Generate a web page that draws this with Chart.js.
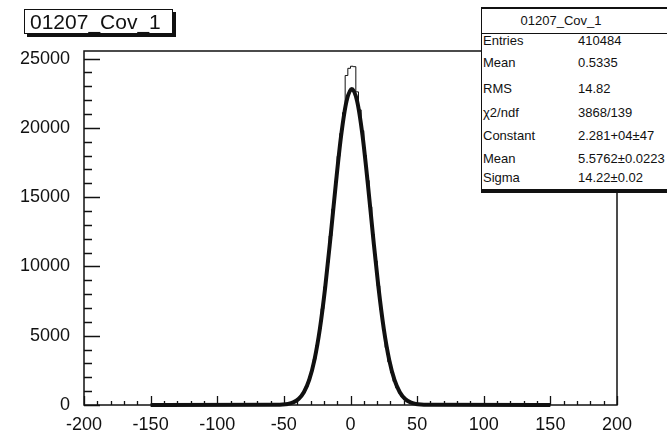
<!DOCTYPE html>
<html>
<head>
<meta charset="utf-8">
<script src="https://cdn.jsdelivr.net/npm/chart.js@4/dist/chart.umd.min.js"></script>
<style>
  html, body { margin: 0; padding: 0; background: #fff; }
  body { width: 667px; height: 441px; overflow: hidden; position: relative; font-family: "Liberation Sans", Arial, sans-serif; color: #111; }
  #c { position: absolute; left: 0; top: 0; }
  #title { position: absolute; left: 24px; top: 9px; border: 1px solid #111; background: #fff;
           box-shadow: 3px 3px 0 #111; font-size: 21px; line-height: 23px; padding-left: 5px; box-sizing: border-box; width: 149px; height: 25px; white-space: nowrap; }
  #stats { position: absolute; left: 481px; top: 7px; width: 200px; height: 186px; background: #fff;
           border-top: 2px solid #111; border-left: 1px solid #111; border-bottom: 4px solid #111; box-sizing: border-box; font-size: 13px; line-height: 15px; }
  #stats .hd { position: absolute; left: 0; width: 158px; top: 4px; text-align: center; }
  #stats .sep { position: absolute; left: 0; right: 0; top: 24px; border-top: 1px solid #111; }
  #stats .k { position: absolute; left: 1px; }
  #stats .v { position: absolute; left: 96px; }
</style>
</head>
<body>
<canvas id="c" width="667" height="441"></canvas>
<div id="title">01207_Cov_1</div>
<div id="stats"></div>
<script>
// ---- data ----
const histTitle = "01207_Cov_1";
const statLabels = ["Entries", "Mean", "RMS", "\u03c72/ndf", "Constant", "Mean", "Sigma"];
const statValues = ["410484", "0.5335", "14.82", "3868/139", "2.281+04\u00b147", "5.5762\u00b10.0223", "14.22\u00b10.02"];

// histogram: bin low edges (width 2) and counts
const binLowEdges = [-60,-58,-56,-54,-52,-50,-48,-46,-44,-42,-40,-38,-36,-34,-32,-30,-28,-26,-24,-22,
  -20,-18,-16,-14,-12,-10,-8,-6,-4,-2,0,2,4,6,8,10,12,14,16,18,
  20,22,24,26,28,30,32,34,36,38,40,42,44,46,48,50,52,54,56,58];
const binCounts = [4,8,12,20,31,50,80,125,195,300,445,650,940,1320,1830,2490,3300,4310,5520,6950,
  8530,10300,12200,14150,16100,17950,19600,21100,23780,24300,24450,24420,22600,21300,19800,18000,16200,14300,12300,10400,
  8600,6900,5400,4150,3120,2330,1700,1230,870,600,410,275,180,115,72,44,26,15,8,4];
const histRange = [-150, 150];

// Gaussian fit curve
const fitX = [-150,-55,-51,-47,-43,-39,-35,-31,-27,-23,-19,-15,-11,-7,-3,1,5,9,13,17,21,25,29,33,37,41,45,49,53,57,150];
const fitY = [0,10,28,77,190,436,925,1812,3281,5486,8480,12107,15969,19462,21915,22800,21915,19462,15969,12107,8480,5486,3281,1812,925,436,190,77,28,10,0];

// axes
const xTicksMajor = [-200,-150,-100,-50,0,50,100,150,200];
const yTicksMajor = [0,5000,10000,15000,20000,25000];

// ---- stats box ----
const rowTops = [24, 46, 72, 96, 119, 142, 161];
const st = document.getElementById('stats');
let html = '<div class="hd">' + histTitle + '</div><div class="sep"></div>';
statLabels.forEach((k, i) => {
  html += '<div class="k" style="top:' + rowTops[i] + 'px">' + k + '</div>';
  html += '<div class="v" style="top:' + rowTops[i] + 'px">' + statValues[i] + '</div>';
});
st.innerHTML = html;

// ---- chart ----
const histData = [{x: histRange[0], y: 0}];
binLowEdges.forEach((e, i) => histData.push({x: e, y: binCounts[i]}));
histData.push({x: binLowEdges[binLowEdges.length - 1] + 2, y: 0});
histData.push({x: histRange[1], y: 0});
const fitData = fitX.map((x, i) => ({x, y: fitY[i]}));

const framePlugin = {
  id: 'frame',
  afterDatasetsDraw(chart) {
    const {ctx, chartArea: a, scales: {x, y}} = chart;
    ctx.save();
    ctx.strokeStyle = '#111';
    ctx.lineWidth = 1.5;
    ctx.strokeRect(a.left, a.top, a.right - a.left, a.bottom - a.top);
    ctx.lineWidth = 1.3;
    ctx.beginPath();
    for (let v = -200; v <= 200; v += 10) {
      const px = Math.round(x.getPixelForValue(v)) + 0.5;
      const len = xTicksMajor.includes(v) ? 9 : 4;
      ctx.moveTo(px, a.bottom); ctx.lineTo(px, a.bottom - len);
    }
    for (let v = 0; v <= 25000; v += 1000) {
      const py = Math.round(y.getPixelForValue(v)) + 0.5;
      const len = yTicksMajor.includes(v) ? 16 : 8;
      ctx.moveTo(a.left, py); ctx.lineTo(a.left + len, py);
    }
    ctx.stroke();
    ctx.restore();
  }
};

const font = {family: '"Liberation Sans", Arial, sans-serif', size: 18};
new Chart(document.getElementById('c'), {
  type: 'line',
  data: {
    datasets: [
      {label: 'hist', data: histData, stepped: true, borderColor: '#111', borderWidth: 1, pointRadius: 0, fill: false, clip: false},
      {label: 'fit', data: fitData, borderColor: '#111', borderWidth: 4, pointRadius: 0, fill: false, cubicInterpolationMode: 'monotone', clip: false}
    ]
  },
  options: {
    responsive: false,
    animation: false,
    devicePixelRatio: 1,
    layout: {padding: {top: 51, right: 50, left: 0, bottom: 0}},
    plugins: {legend: {display: false}, tooltip: {enabled: false}, title: {display: false}},
    scales: {
      x: {
        type: 'linear', min: -200, max: 200,
        grid: {display: false, drawTicks: false},
        border: {display: false},
        ticks: {stepSize: 50, font, color: '#111', padding: 9, maxRotation: 0, autoSkip: false, includeBounds: false, callback: v => String(v)},
        afterBuildTicks(s) { s.ticks = xTicksMajor.map(v => ({value: v})); },
        afterFit(s) { s.height = 36; }
      },
      y: {
        type: 'linear', min: 0, max: 25550,
        grid: {display: false, drawTicks: false},
        border: {display: false},
        ticks: {stepSize: 5000, font, color: '#111', padding: 14, includeBounds: false, callback: v => String(v)},
        afterBuildTicks(s) { s.ticks = yTicksMajor.map(v => ({value: v})); },
        afterFit(s) { s.width = 84; }
      }
    }
  },
  plugins: [framePlugin]
});
</script>
</body>
</html>
